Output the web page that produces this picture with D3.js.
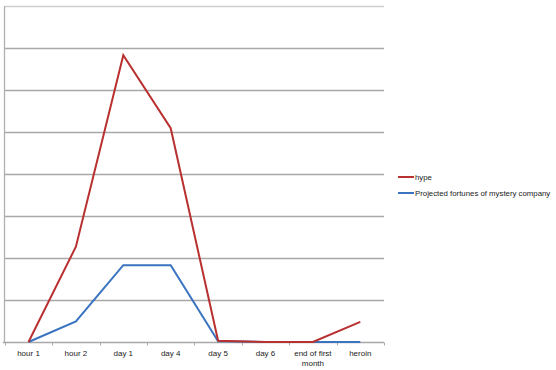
<!DOCTYPE html>
<head>
<meta charset="utf-8">
<style>
    body { margin: 0; background: #fff; }
    text { font-family: "Liberation Sans", Arial, sans-serif; }
</style>
<script src="https://d3js.org/d3.v7.min.js"></script>
</head>
<body>
<script>
// categories and series (one gridline = 1 unit)
var categories = ["hour 1", "hour 2", "day 1", "day 4", "day 5", "day 6", "end of first month", "heroin"];
var hype = [0, 2.27, 6.83, 5.09, 0.03, 0, 0, 0.48];
var mystery = [0, 0.49, 1.83, 1.83, 0.02, 0, 0, 0];
var gridValues = [0, 1, 2, 3, 4, 5, 6, 7, 8];
var seriesNames = ["hype", "Projected fortunes of mystery company"];
var seriesColors = ["#b8302f", "#3a74c0"];

var width = 556, height = 370;
var plot = {left: 4.8, right: 384, top: 6, bottom: 342};

var svg = d3.select("body").append("svg")
    .attr("width", width)
    .attr("height", height);

var x = d3.scaleBand()
    .domain(categories)
    .range([plot.left, plot.right]);

var y = d3.scaleLinear()
    .domain([0, 8])
    .range([plot.bottom, plot.top]);

// horizontal gridlines
svg.append("g")
    .selectAll("line")
    .data(gridValues.slice(1))
    .enter().append("line")
    .attr("x1", plot.left)
    .attr("x2", plot.right)
    .attr("y1", function(d) { return Math.round(y(d)) + 0.5; })
    .attr("y2", function(d) { return Math.round(y(d)) + 0.5; })
    .attr("stroke", function(d) { return d == 8 ? "#cfcfcf" : "#a8a8a8"; })
    .attr("stroke-width", 1.3);

// y axis line (no labels)
svg.append("line")
    .attr("x1", 4.5).attr("x2", 4.5)
    .attr("y1", plot.top).attr("y2", plot.bottom)
    .attr("stroke", "#b0b0b0")
    .attr("stroke-width", 1.3);

// x axis with ticks at band edges
var xAxis = svg.append("g")
    .attr("transform", "translate(0," + (Math.round(plot.bottom) + 0.5) + ")");

xAxis.append("line")
    .attr("x1", plot.left - 2).attr("x2", plot.right)
    .attr("stroke", "#a8a8a8")
    .attr("stroke-width", 1.3);

var edges = categories.map(function(c) { return x(c); }).concat([plot.right]);
xAxis.selectAll("line.tick")
    .data(edges)
    .enter().append("line")
    .attr("class", "tick")
    .attr("x1", function(d) { return Math.round(d) + 0.5; })
    .attr("x2", function(d) { return Math.round(d) + 0.5; })
    .attr("y1", 0).attr("y2", 3)
    .attr("stroke", "#a8a8a8");

var labels = xAxis.selectAll("text")
    .data(categories)
    .enter().append("text")
    .attr("x", function(d) { return x(d) + x.bandwidth() / 2; })
    .attr("y", 13)
    .attr("text-anchor", "middle")
    .attr("font-size", "8px")
    .attr("fill", "#222");

labels.each(function(d) {
    var t = d3.select(this);
    var lines = d == "end of first month" ? ["end of first", "month"] : [d];
    lines.forEach(function(s, i) {
        t.append("tspan")
            .attr("x", x(d) + x.bandwidth() / 2)
            .attr("dy", i == 0 ? 0 : 10.5)
            .text(s);
    });
});

// series lines (blue underneath, red on top)
var line = d3.line()
    .x(function(d, i) { return x(categories[i]) + x.bandwidth() / 2; })
    .y(function(d) { return y(d); });

[mystery, hype].forEach(function(s, i) {
    svg.append("path")
        .datum(s)
        .attr("fill", "none")
        .attr("stroke", seriesColors[1 - i])
        .attr("stroke-width", 2)
        .attr("stroke-linejoin", "miter")
        .attr("d", line);
});

// legend
var legend = svg.append("g")
    .attr("transform", "translate(398,177)");

seriesNames.forEach(function(name, i) {
    var row = legend.append("g")
        .attr("transform", "translate(0," + (i * 16) + ")");
    row.append("line")
        .attr("x1", 0).attr("x2", 16)
        .attr("stroke", seriesColors[i])
        .attr("stroke-width", 2);
    row.append("text")
        .attr("x", 17)
        .attr("y", 3)
        .attr("font-size", "7.8px")
        .attr("fill", "#222")
        .text(name);
});
</script>
</body>
